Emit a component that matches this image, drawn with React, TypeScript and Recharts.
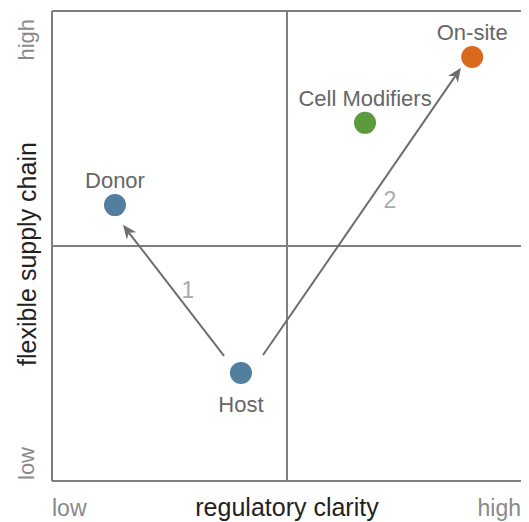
import {
  ScatterChart,
  Scatter,
  XAxis,
  YAxis,
  ReferenceLine,
  ReferenceDot,
} from "recharts";

// quadrant points (0-10 scale on both axes)
const names = ["Donor", "Cell Modifiers", "On-site", "Host"];
const clarity = [1.34, 6.66, 8.94, 4.02];
const flexibility = [5.87, 7.62, 9.02, 2.3];
const colors = ["#527f9f", "#5c9a3c", "#d9691c", "#527f9f"];
const namesBelow = ["Host"];

// numbered arrows
const arrowNames = ["1", "2"];
const arrowFrom = [
  [3.66, 2.66],
  [4.49, 2.68],
];
const arrowTo = [
  [1.51, 5.45],
  [8.7, 8.79],
];
const arrowLabelAt = [
  [2.89, 4.06],
  [7.19, 5.98],
];

const xTickLabels = ["low", "high"];
const yTickLabels = ["low", "high"];

const FONT = "'Liberation Sans', Arial, sans-serif";
const LINE = "#7f7f7f";
const ARROW = "#6d6e71";

const points = names.map((name, i) => ({
  name,
  x: clarity[i],
  y: flexibility[i],
  color: colors[i],
}));

const PointShape = (props: any) => {
  const { cx, cy, payload } = props;
  const below = namesBelow.includes(payload.name);
  return (
    <g>
      <circle cx={cx} cy={cy} r={11} fill={payload.color} />
      <text
        x={cx}
        y={below ? cy + 39 : cy - 17}
        textAnchor="middle"
        fontFamily={FONT}
        fontSize={22}
        fill="#666"
      >
        {payload.name}
      </text>
    </g>
  );
};

const ArrowShape = (props: any) => {
  const { x1, y1, x2, y2 } = props;
  const dx = x2 - x1;
  const dy = y2 - y1;
  const len = Math.hypot(dx, dy) || 1;
  const ux = dx / len;
  const uy = dy / len;
  const head = 14;
  const half = 6;
  const bx = x2 - ux * head;
  const by = y2 - uy * head;
  const nx = x2 - ux * (head - 4);
  const ny = y2 - uy * (head - 4);
  return (
    <g>
      <line x1={x1} y1={y1} x2={nx} y2={ny} stroke={ARROW} strokeWidth={2} />
      <polygon
        points={`${x2},${y2} ${bx - uy * half},${by + ux * half} ${nx},${ny} ${bx + uy * half},${by - ux * half}`}
        fill={ARROW}
      />
    </g>
  );
};

const XTick = (props: any) => {
  const { x, y, payload } = props;
  const isLow = payload.value === 0;
  return (
    <text
      x={x}
      y={y + 27}
      textAnchor={isLow ? "start" : "end"}
      fontFamily={FONT}
      fontSize={23}
      fill="#8a8a8a"
    >
      {isLow ? xTickLabels[0] : xTickLabels[1]}
    </text>
  );
};

const YTick = (props: any) => {
  const { x, y, payload } = props;
  const isLow = payload.value === 0;
  const tx = x - 18;
  const ty = isLow ? y - 1 : y + 2;
  return (
    <text
      x={tx}
      y={ty}
      transform={`rotate(-90 ${tx} ${ty})`}
      textAnchor={isLow ? "start" : "end"}
      dominantBaseline="central"
      fontFamily={FONT}
      fontSize={22}
      fill="#8a8a8a"
    >
      {isLow ? yTickLabels[0] : yTickLabels[1]}
    </text>
  );
};

const YTitle = (props: any) => {
  const { viewBox } = props;
  const cx = viewBox.x + 19;
  const cy = viewBox.y + viewBox.height / 2 + 8;
  return (
    <text
      x={cx}
      y={cy}
      transform={`rotate(-90 ${cx} ${cy})`}
      textAnchor="middle"
      dominantBaseline="central"
      fontFamily={FONT}
      fontSize={25}
      fill="#222"
    >
      flexible supply chain
    </text>
  );
};

const App = () => (
  <ScatterChart
    width={521}
    height={514}
    margin={{ top: 3, right: 7, bottom: 0, left: 0 }}
  >
    <XAxis
      type="number"
      dataKey="x"
      domain={[0, 10]}
      ticks={[0, 10]}
      axisLine={false}
      tickLine={false}
      tick={<XTick />}
      height={41}
      label={{
        value: "regulatory clarity",
        position: "insideBottom",
        offset: 6,
        fill: "#222",
        fontSize: 25,
        fontFamily: FONT,
      }}
    />
    <YAxis
      type="number"
      dataKey="y"
      domain={[0, 10]}
      ticks={[0, 10]}
      axisLine={false}
      tickLine={false}
      tick={<YTick />}
      width={44}
      label={{ content: <YTitle /> }}
    />

    {/* quadrant frame */}
    <ReferenceLine x={0} stroke={LINE} strokeWidth={2} />
    <ReferenceLine x={10} stroke={LINE} strokeWidth={2} />
    <ReferenceLine y={0} stroke={LINE} strokeWidth={2} />
    <ReferenceLine y={10} stroke={LINE} strokeWidth={2} />
    <ReferenceLine x={5} stroke={LINE} strokeWidth={2} />
    <ReferenceLine y={5} stroke={LINE} strokeWidth={2} />

    {/* arrows */}
    {arrowNames.map((n, i) => (
      <ReferenceLine
        key={"a" + n}
        segment={[
          { x: arrowFrom[i][0], y: arrowFrom[i][1] },
          { x: arrowTo[i][0], y: arrowTo[i][1] },
        ]}
        shape={ArrowShape}
      />
    ))}
    {arrowNames.map((n, i) => (
      <ReferenceDot
        key={"l" + n}
        x={arrowLabelAt[i][0]}
        y={arrowLabelAt[i][1]}
        r={0}
        stroke="none"
        label={{
          value: n,
          position: "center",
          fill: "#aaa",
          fontSize: 23,
          fontFamily: FONT,
        }}
      />
    ))}

    <Scatter data={points} shape={PointShape} isAnimationActive={false} />
  </ScatterChart>
);

export default App;
